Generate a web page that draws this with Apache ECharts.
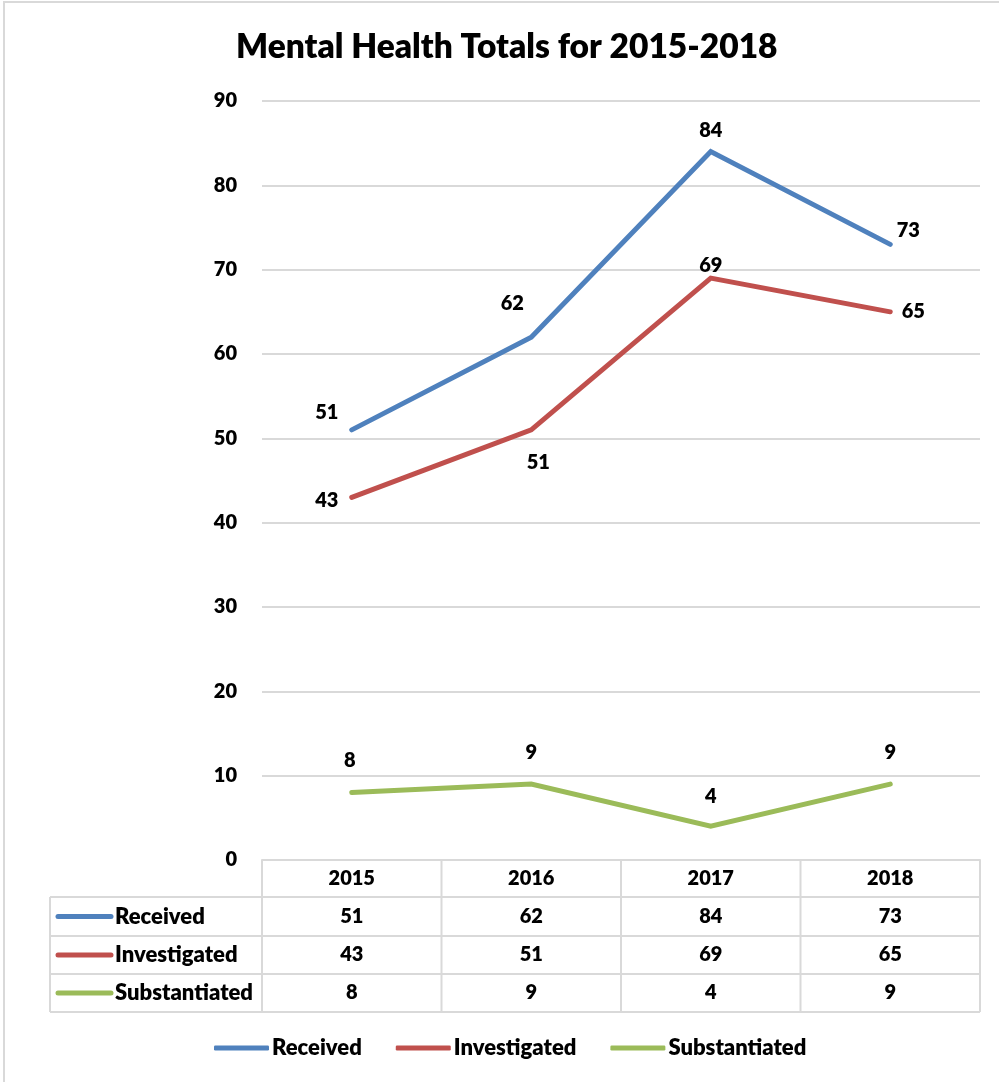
<!DOCTYPE html>
<html>
<head>
<meta charset="utf-8">
<script src="https://cdn.jsdelivr.net/npm/echarts@6/dist/echarts.min.js"></script>
<style>
  html, body { margin: 0; padding: 0; background: #fff; }
  #chart { width: 999px; height: 1082px; }
</style>
</head>
<body>
<div id="chart"></div>
<script>
// Complaint totals by year
const years = ['2015', '2016', '2017', '2018'];
const seriesNames = ['Received', 'Investigated', 'Substantiated'];
const received = [51, 62, 84, 73];
const investigated = [43, 51, 69, 65];
const substantiated = [8, 9, 4, 9];
const yMin = 0, yMax = 90, yStep = 10;

const values = [received, investigated, substantiated];
const colors = ['#4F81BD', '#C0504D', '#9BBB59'];
// label offsets (px) from each point, so labels sit clear of the lines
const labelOffsets = [
  [[-25, -17], [-19, -34], [0, -21], [18, -14]],
  [[-25, 3], [7, 33], [0, -13], [23, 0]],
  [[-2, -32], [0, -32], [0, -30], [0, -32]]
];

const FONT = 'Lato, "Open Sans", sans-serif';
const WEIGHT = 800;
const GRID = { left: 262, right: 19, top: 101, bottom: 222 };
const GRID_COLOR = '#d9d9d9';

const chart = echarts.init(document.getElementById('chart'), null, { renderer: 'canvas' });

const series = seriesNames.map((name, s) => ({
  name,
  type: 'line',
  data: values[s].map((v, i) => ({
    value: v,
    label: { offset: labelOffsets[s][i] }
  })),
  symbol: 'circle',
  symbolSize: 2,
  showSymbol: true,
  itemStyle: { color: colors[s] },
  lineStyle: { color: colors[s], width: 5, join: 'miter', cap: 'round' },
  label: {
    show: true,
    position: 'inside',
    color: '#000',
    fontFamily: FONT,
    fontWeight: WEIGHT,
    fontSize: 20
  },
  emphasis: { disabled: true },
  animation: false
}));

chart.setOption({
  animation: false,
  backgroundColor: '#fff',
  title: {
    text: 'Mental Health Totals for 2015-2018',
    left: 231,
    top: 25,
    textStyle: { fontFamily: FONT, fontWeight: WEIGHT, fontSize: 33.5, color: '#000' }
  },
  grid: GRID,
  xAxis: {
    type: 'category',
    data: years,
    boundaryGap: true,
    axisLine: { show: true, lineStyle: { color: GRID_COLOR, width: 2 } },
    axisTick: { show: false },
    axisLabel: { show: false },
    splitLine: { show: false }
  },
  yAxis: {
    type: 'value',
    min: yMin,
    max: yMax,
    interval: yStep,
    axisLine: { show: false },
    axisTick: { show: false },
    axisLabel: {
      margin: 25,
      color: '#000',
      fontFamily: FONT,
      fontWeight: WEIGHT,
      fontSize: 20
    },
    splitLine: { lineStyle: { color: GRID_COLOR, width: 2 } }
  },
  legend: {
    data: seriesNames,
    bottom: 18,
    left: 209,
    icon: 'roundRect',
    itemWidth: 55,
    itemHeight: 5,
    itemGap: 34,
    textStyle: { fontFamily: FONT, fontWeight: WEIGHT, fontSize: 22, color: '#000', padding: [0, 0, 0, -2] },
    selectedMode: false
  },
  series
});

// Data table under the plot, aligned with the category axis
function buildTable() {
  const centers = years.map((_, i) => chart.convertToPixel({ xAxisIndex: 0 }, i));
  const half = (centers[1] - centers[0]) / 2;
  const top = chart.getHeight() - GRID.bottom;
  const rowH = [37, 39, 38, 38];
  const rowY = [top];
  rowH.forEach(h => rowY.push(rowY[rowY.length - 1] + h));
  const tableLeft = 50;
  const right = centers[centers.length - 1] + half;
  const lineStyle = { stroke: GRID_COLOR, lineWidth: 2 };
  const numStyle = { fontFamily: FONT, fontWeight: WEIGHT, fontSize: 20, fill: '#000' };
  const nameStyle = { fontFamily: FONT, fontWeight: WEIGHT, fontSize: 22, fill: '#000' };
  const els = [];

  // outer frame of the chart area
  els.push({ type: 'rect', shape: { x: 4, y: 2, width: 1010, height: 1100 }, style: { fill: null, stroke: GRID_COLOR, lineWidth: 2 }, silent: true });

  // column separators
  const colEdges = centers.map(c => c - half).concat([right]);
  colEdges.forEach(x => {
    els.push({ type: 'line', shape: { x1: x, y1: rowY[0], x2: x, y2: rowY[4] }, style: lineStyle, silent: true });
  });
  els.push({ type: 'line', shape: { x1: tableLeft, y1: rowY[1], x2: tableLeft, y2: rowY[4] }, style: lineStyle, silent: true });
  // row separators
  for (let r = 1; r <= 4; r++) {
    els.push({ type: 'line', shape: { x1: tableLeft, y1: rowY[r], x2: right, y2: rowY[r] }, style: lineStyle, silent: true });
  }
  // header row: years
  years.forEach((y, i) => {
    els.push({ type: 'text', x: centers[i], y: (rowY[0] + rowY[1]) / 2,
      style: Object.assign({ text: y, align: 'center', verticalAlign: 'middle' }, numStyle), silent: true });
  });
  // series rows
  seriesNames.forEach((name, s) => {
    const cy = (rowY[s + 1] + rowY[s + 2]) / 2;
    els.push({ type: 'line', shape: { x1: tableLeft + 8, y1: cy, x2: tableLeft + 61, y2: cy },
      style: { stroke: colors[s], lineWidth: 5, lineCap: 'round' }, silent: true });
    els.push({ type: 'text', x: tableLeft + 65, y: cy,
      style: Object.assign({ text: name, align: 'left', verticalAlign: 'middle' }, nameStyle), silent: true });
    values[s].forEach((v, i) => {
      els.push({ type: 'text', x: centers[i], y: cy,
        style: Object.assign({ text: String(v), align: 'center', verticalAlign: 'middle' }, numStyle), silent: true });
    });
  });
  chart.setOption({ graphic: { elements: els } });
}
buildTable();
</script>
</body>
</html>
